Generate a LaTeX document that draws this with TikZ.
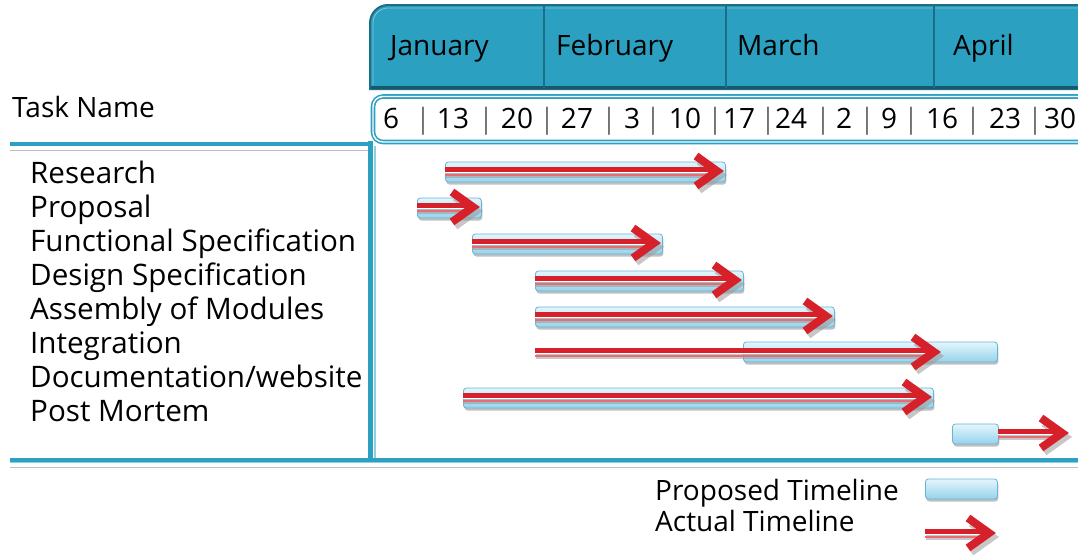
\documentclass[tikz,border=0pt]{standalone}
\usepackage{fontspec}
\setmainfont{Open Sans}
\usetikzlibrary{shadows}
\definecolor{teal1}{RGB}{43,160,192}
\definecolor{tealdark}{RGB}{28,110,135}
\definecolor{teallight}{RGB}{140,208,228}
\definecolor{barTop}{RGB}{228,246,253}
\definecolor{barBot}{RGB}{150,210,234}
\definecolor{barEdge}{RGB}{105,180,212}
\definecolor{arrRed}{RGB}{214,32,42}
\definecolor{arrPink}{RGB}{228,110,116}
\tikzset{
  txt/.style={font=\fontsize{28}{30}\selectfont, inner sep=0pt, anchor=base west},
  tasktxt/.style={font=\fontsize{29.6}{31}\selectfont, inner sep=0pt, anchor=base west},
  wk/.style={font=\fontsize{28}{30}\selectfont, inner sep=0pt, anchor=base},
  sepbar/.style={wk, text=black!55},
  shadowc/.style={black!40, opacity=0.55},
  planbox/.style={rectangle, rounded corners=3pt, draw=barEdge, line width=0.8pt,
    top color=barTop, bottom color=barBot, minimum height=20pt, inner sep=0pt, anchor=west,
    drop shadow={shadow xshift=1pt, shadow yshift=-2.5pt, fill=black!45, opacity=0.55}},
}
\newcommand\planbar[4]{\node[planbox, minimum width={#3pt-#2pt}] (#1) at (#2,#4) {};}
\newcommand\actual[4]{%
  \coordinate (#1s) at (#2,#4);
  \coordinate (#1e) at (#3,#4);
  \draw[shadowc, line width=5pt] ([shift={(1,4)}]#1s) -- ([shift={(-12,4)}]#1e);
  \draw[shadowc, line width=8pt] ([shift={(-26,-10)}]#1e) -- ([shift={(-5,4)}]#1e) -- ([shift={(-26,19)}]#1e);
  \draw[arrPink, line width=2pt] ([shift={(0,3.5)}]#1s) -- ([shift={(-12,3.5)}]#1e);
  \draw[white, line width=1pt] ([shift={(0,1.7)}]#1s) -- ([shift={(-12,1.7)}]#1e);
  \draw[arrRed, line width=5pt] ([shift={(0,-1.5)}]#1s) -- ([shift={(-12,-1.5)}]#1e);
  \draw[arrRed, line width=8pt] ([shift={(-29,-15)}]#1e) -- ([shift={(-8,0)}]#1e) -- ([shift={(-29,15)}]#1e);
}
\begin{document}
\begin{tikzpicture}[x=1pt,y=-1pt]
\useasboundingbox (0,0) rectangle (1078,554);
\clip (0,0) rectangle (1078,554);
% month header
\filldraw[fill=teal1, draw=tealdark, line width=2pt]
  (370,89) [rounded corners=18pt] -- (370,5) -- (1100,5) [sharp corners] -- (1100,89) -- cycle;
\draw[tealdark!80!black, line width=2.5pt] (371,87.5) -- (1100,87.5);
\draw[teal1!60!white, line width=0.8pt, rounded corners=15pt] (373,85) -- (373,8) -- (1100,8);
\foreach \xx in {544,726,934} \draw[tealdark, line width=1.3pt] (\xx,6) -- (\xx,88);
\node[txt] (jan) at (390,55) {January};
\node[txt] (feb) at (556,55) {February};
\node[txt] (mar) at (737,55) {March};
\node[txt] (apr) at (953,55) {April};
% week row
\draw[teal1, double=white, double distance=1.4pt, line width=1.6pt, rounded corners=10pt]
  (1100,142) -- (373,142) -- (373,96.5) -- (1100,96.5);
\foreach \xx/\tt [count=\i] in {391/6,453/13,517/20,577/27,632/3,685/10,739/17,791/24,844/2,889/9,942/16,1005/23,1060/30}
  \node[wk] (w\i) at (\xx,128) {\tt};
\foreach \xx [count=\i] in {423,486,547,609,653,715,768,823,867,911,973,1035}
  \node[sepbar] (s\i) at (\xx,128) {|};
% frame lines
\node[txt] (taskname) at (12,117) {Task Name};
\draw[teal1, line width=4.5pt] (10,144) -- (371,144);
\draw[black!25, line width=1pt] (10,150) -- (368,150);
\draw[teal1, line width=5pt] (370.5,141) -- (370.5,460);
\draw[teallight, line width=2pt] (374.5,146) -- (374.5,458);
\draw[teal1, line width=5pt] (10,460) -- (1100,460);
\draw[teallight, line width=1pt] (10,462.5) -- (1100,462.5);
\draw[black!25, line width=1.2pt] (10,467.5) -- (1100,467.5);
% task names
\foreach \tt [count=\i] in {Research,Proposal,Functional Specification,Design Specification,Assembly of Modules,Integration,Documentation/website,Post Mortem}
  \node[tasktxt] (t\i) at (30,{183+34.1*(\i-1)}) {\tt};
% proposed bars
\planbar{b1}{445}{725}{172}
\planbar{b2}{417}{481}{208}
\planbar{b3}{472}{662}{244}
\planbar{b4}{535}{743}{281}
\planbar{b5}{535}{834}{317}
\planbar{b6}{743}{997}{352}
\planbar{b7}{463}{933}{398}
\planbar{b8}{952}{998}{434}
% actual arrows
\actual{a1}{445}{725}{171}
\actual{a2}{417}{481}{207}
\actual{a3}{472}{662}{243}
\actual{a4}{535}{743}{280}
\actual{a5}{535}{834}{316}
\actual{a6}{535}{942}{352}
\actual{a7}{463}{933}{397}
\actual{a8}{998}{1070}{433}
% legend
\node[txt] (lp) at (655,500) {Proposed Timeline};
\node[txt] (la) at (655,531) {Actual Timeline};
\planbar{lb}{925}{997}{489}
\actual{lar}{925}{997}{533}
\end{tikzpicture}
\end{document}
